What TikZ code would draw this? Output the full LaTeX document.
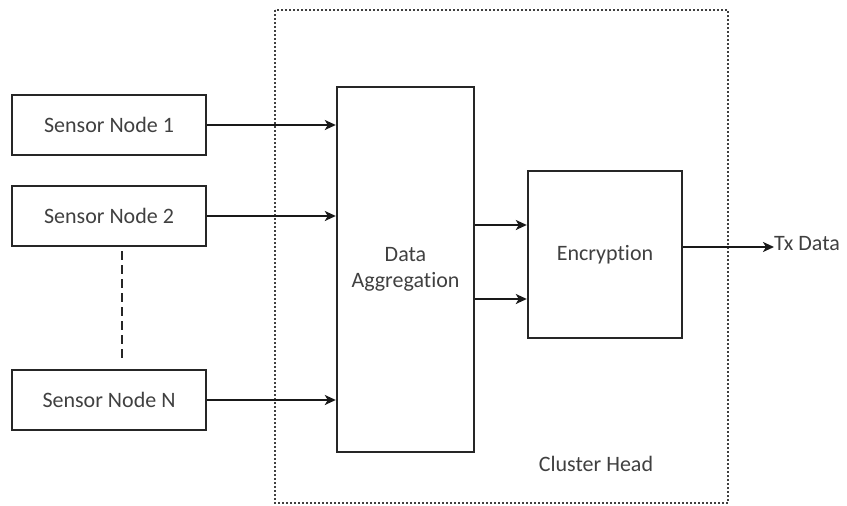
\documentclass[tikz,border=0pt]{standalone}
\usepackage{fontspec}
\setmainfont[Ligatures=NoCommon]{Carlito}
\usetikzlibrary{arrows.meta}
\begin{document}
\begin{tikzpicture}[x=1pt,y=-1pt,
  blk/.style={draw=black!85,line width=2.4pt,inner sep=0pt,font=\fontsize{22}{26}\selectfont\color{black!75}},
  conn/.style={draw=black!90,line width=2.6pt,-{Stealth[length=11pt,width=10pt,inset=3pt]}},
  lbl/.style={font=\fontsize{22}{26}\selectfont\color{black!75},inner sep=0pt}]
\useasboundingbox (0,0) rectangle (847,506);
\draw[black!75,line width=2pt,dotted] (275,10) rectangle (728,503);
\node[blk,minimum width=194pt,minimum height=60pt] (s1) at (109,125) {Sensor Node 1};
\node[blk,minimum width=194pt,minimum height=60pt] (s2) at (109,216) {Sensor Node 2};
\node[blk,minimum width=194pt,minimum height=60pt] (sn) at (109,400) {Sensor Node N};
\node[blk,minimum width=137pt,minimum height=365pt,align=center] (da) at (405.5,269.5) {Data\\Aggregation};
\node[blk,minimum width=154pt,minimum height=167pt] (enc) at (605,254.5) {Encryption};
\node[lbl,anchor=west] (tx) at (774,244) {Tx Data};
\node[lbl] (ch) at (596,464) {Cluster Head};
\draw[black!85,line width=2.4pt,dashed,dash pattern=on 9pt off 5pt] (s2.south) ++(13,4) coordinate (d1) -- (122,362) coordinate (d2);
\draw[conn] (s1.east) -- (s1.east -| da.west);
\draw[conn] (s2.east) -- (s2.east -| da.west);
\draw[conn] (sn.east) -- (sn.east -| da.west);
\draw[conn] (da.east |- 0,225) coordinate (a1) -- (a1 -| enc.west);
\draw[conn] (da.east |- 0,299) coordinate (a2) -- (a2 -| enc.west);
\draw[conn] (enc.east |- 0,247) coordinate (o1) -- (tx.west |- o1);
\end{tikzpicture}
\end{document}
